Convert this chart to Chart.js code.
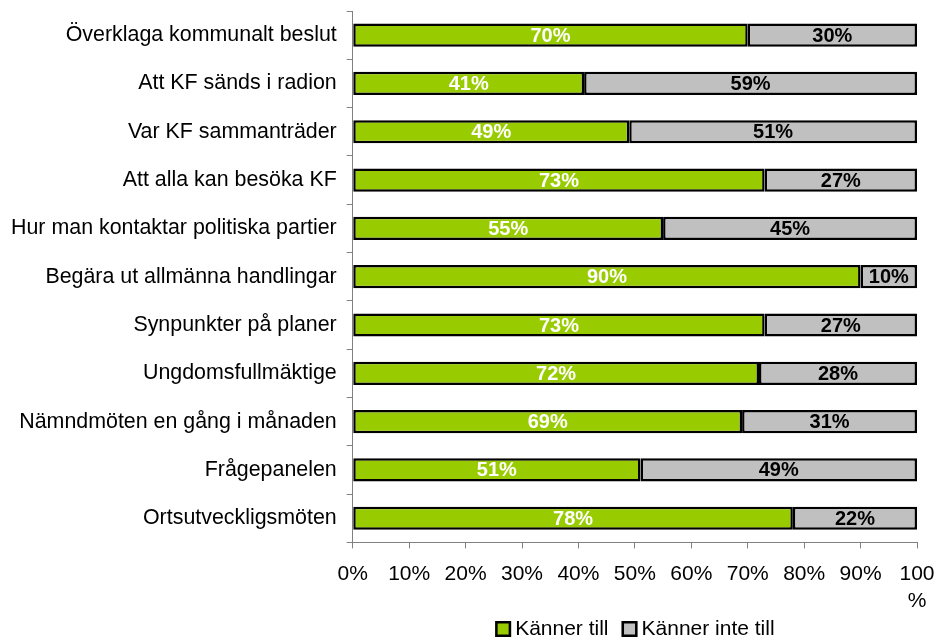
<!DOCTYPE html>
<html><head><meta charset="utf-8">
<script src="https://cdn.jsdelivr.net/npm/chart.js@4/dist/chart.umd.min.js"></script>
<style>html,body{margin:0;padding:0;background:#fff}#wrap{width:936px;height:639px}</style>
</head><body><div id="wrap"><canvas id="c" width="936" height="639"></canvas></div>
<script>
const categories = ["Överklaga kommunalt beslut","Att KF sänds i radion","Var KF sammanträder","Att alla kan besöka KF","Hur man kontaktar politiska partier","Begära ut allmänna handlingar","Synpunkter på planer","Ungdomsfullmäktige","Nämndmöten en gång i månaden","Frågepanelen","Ortsutveckligsmöten"];
const kannerTill = [70,41,49,73,55,90,73,72,69,51,78];
const kannerInteTill = [30,59,51,27,45,10,27,28,31,49,22];
const xTickLabels = {0:"0%",10:"10%",20:"20%",30:"30%",40:"40%",50:"50%",60:"60%",70:"70%",80:"80%",90:"90%",100:["100","%"]};

const FONT = '"Liberation Sans", Arial, sans-serif';

const valueLabels = {
  id: 'valueLabels',
  afterDatasetsDraw(chart) {
    const ctx = chart.ctx;
    ctx.save();
    ctx.font = 'bold 20px ' + FONT;
    ctx.textAlign = 'center';
    ctx.textBaseline = 'middle';
    chart.data.datasets.forEach((ds, di) => {
      const meta = chart.getDatasetMeta(di);
      meta.data.forEach((bar, i) => {
        const x = (bar.x + bar.base) / 2;
        ctx.fillStyle = di === 0 ? '#ffffff' : '#000000';
        ctx.fillText(ds.data[i] + '%', x, bar.y + 1);
      });
    });
    ctx.restore();
  }
};

const customLegend = {
  id: 'customLegend',
  afterDraw(chart) {
    const ctx = chart.ctx;
    const ca = chart.chartArea;
    ctx.save();
    ctx.font = '21px ' + FONT;
    ctx.textBaseline = 'middle';
    const box = 16, gapT = 4, gapI = 13;
    const items = chart.data.datasets.map(ds => ({label: ds.label, color: ds.backgroundColor, w: ctx.measureText(ds.label).width}));
    let total = 0;
    items.forEach((it, i) => { total += box + gapT + it.w + (i < items.length - 1 ? gapI : 0); });
    let x = (ca.left + ca.right) / 2 - total / 2;
    const y = 629;
    items.forEach(it => {
      ctx.fillStyle = it.color;
      ctx.fillRect(x, y - box / 2, box, box);
      ctx.lineWidth = 2.5;
      ctx.strokeStyle = '#000';
      ctx.strokeRect(x + 1.25, y - box / 2 + 1.25, box - 2.5, box - 2.5);
      ctx.fillStyle = '#000';
      ctx.fillText(it.label, x + box + gapT, y);
      x += box + gapT + it.w + gapI;
    });
    ctx.restore();
  }
};

new Chart(document.getElementById('c'), {
  type: 'bar',
  data: {
    labels: categories,
    datasets: [
      {label: 'Känner till', data: kannerTill, backgroundColor: '#99cc00', borderColor: '#000', borderWidth: 2.5, borderSkipped: false, barPercentage: 0.96, categoryPercentage: 0.5},
      {label: 'Känner inte till', data: kannerInteTill, backgroundColor: '#c0c0c0', borderColor: '#000', borderWidth: 2.5, borderSkipped: false, barPercentage: 0.96, categoryPercentage: 0.5}
    ]
  },
  options: {
    indexAxis: 'y',
    responsive: false,
    animation: false,
    layout: {padding: {top: 11, right: 19, left: 1, bottom: 12}},
    scales: {
      x: {
        stacked: true, min: 0, max: 100,
        afterFit(s) { s.paddingLeft = 0; s.paddingRight = 0; },
        ticks: {stepSize: 10, color: '#000', font: {size: 21, family: FONT, lineHeight: 1.3}, maxRotation: 0, padding: 12,
          callback: v => xTickLabels[v]},
        grid: {drawOnChartArea: false, tickLength: 6, color: '#808080'},
        border: {color: '#808080', width: 1}
      },
      y: {
        stacked: true,
        afterFit(s) { s.paddingTop = 0; s.paddingBottom = 0; },
        ticks: {color: '#000', font: {size: 21.4, family: FONT}, padding: 10},
        grid: {drawOnChartArea: false, offset: true, tickLength: 6, color: '#808080'},
        border: {color: '#808080', width: 1}
      }
    },
    plugins: {
      legend: {display: false},
      tooltip: {enabled: false}
    }
  },
  plugins: [valueLabels, customLegend]
});
</script></body></html>
